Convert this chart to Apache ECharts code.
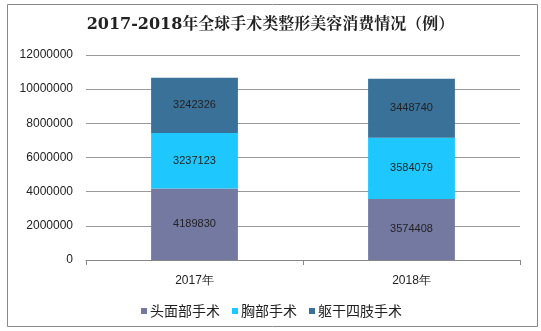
<!DOCTYPE html>
<html><head><meta charset="utf-8">
<script src="https://cdn.jsdelivr.net/npm/echarts@6/dist/echarts.min.js"></script>
<style>html,body{margin:0;padding:0;background:#fff}#c{width:541px;height:331px}</style>
</head><body><div id="c"></div>
<script>
const categories = ['2017年', '2018年'];
const headFace = [4189830, 3574408];
const chest = [3237123, 3584079];
const body = [3242326, 3448740];
const seriesNames = ['头面部手术', '胸部手术', '躯干四肢手术'];
const colors = ['#7479A2', '#1EC8FE', '#3A7199'];
const chart = echarts.init(document.getElementById('c'));
const lbl = {show: true, position: 'inside', color: '#222', fontSize: 11, fontFamily: 'Arial, Liberation Sans, sans-serif'};
const mk = (name, data, i) => ({name, type: 'bar', stack: 's', data, barWidth: '40%', itemStyle: {color: colors[i]}, label: lbl});
chart.setOption({
  animation: false,
  title: {text: '2017-2018年全球手术类整形美容消费情况（例）', left: 'center', top: 12,
    textStyle: {fontSize: 16, fontWeight: 'bold', color: '#222', fontFamily: 'DejaVu Serif, Noto Serif CJK SC, serif'}},
  graphic: [{type: 'rect', shape: {x: 7.5, y: 4.5, width: 530, height: 322}, style: {fill: 'none', stroke: '#888', lineWidth: 1}}],
  grid: {left: 86, right: 21, top: 55, bottom: 71},
  legend: {top: 299, left: 136, itemWidth: 6, itemHeight: 6, itemGap: 12, icon: 'rect',
    textStyle: {fontSize: 14, color: '#222', padding: [0, 0, 0, -2], fontFamily: 'Noto Sans CJK SC, sans-serif'}, data: seriesNames},
  xAxis: {type: 'category', data: categories,
    axisLine: {lineStyle: {color: '#888'}}, axisTick: {show: true, length: 5, lineStyle: {color: '#888'}},
    axisLabel: {color: '#222', fontSize: 12, margin: 15, fontFamily: 'Arial, Liberation Sans, sans-serif'}},
  yAxis: {type: 'value', min: 0, max: 12000000, interval: 2000000,
    axisLine: {show: false}, axisTick: {show: false},
    splitLine: {lineStyle: {color: '#999'}},
    axisLabel: {color: '#222', fontSize: 12, margin: 13, formatter: v => String(v), fontFamily: 'Arial, Liberation Sans, sans-serif'}},
  series: [mk(seriesNames[0], headFace, 0), mk(seriesNames[1], chest, 1), mk(seriesNames[2], body, 2)]
});
</script></body></html>
